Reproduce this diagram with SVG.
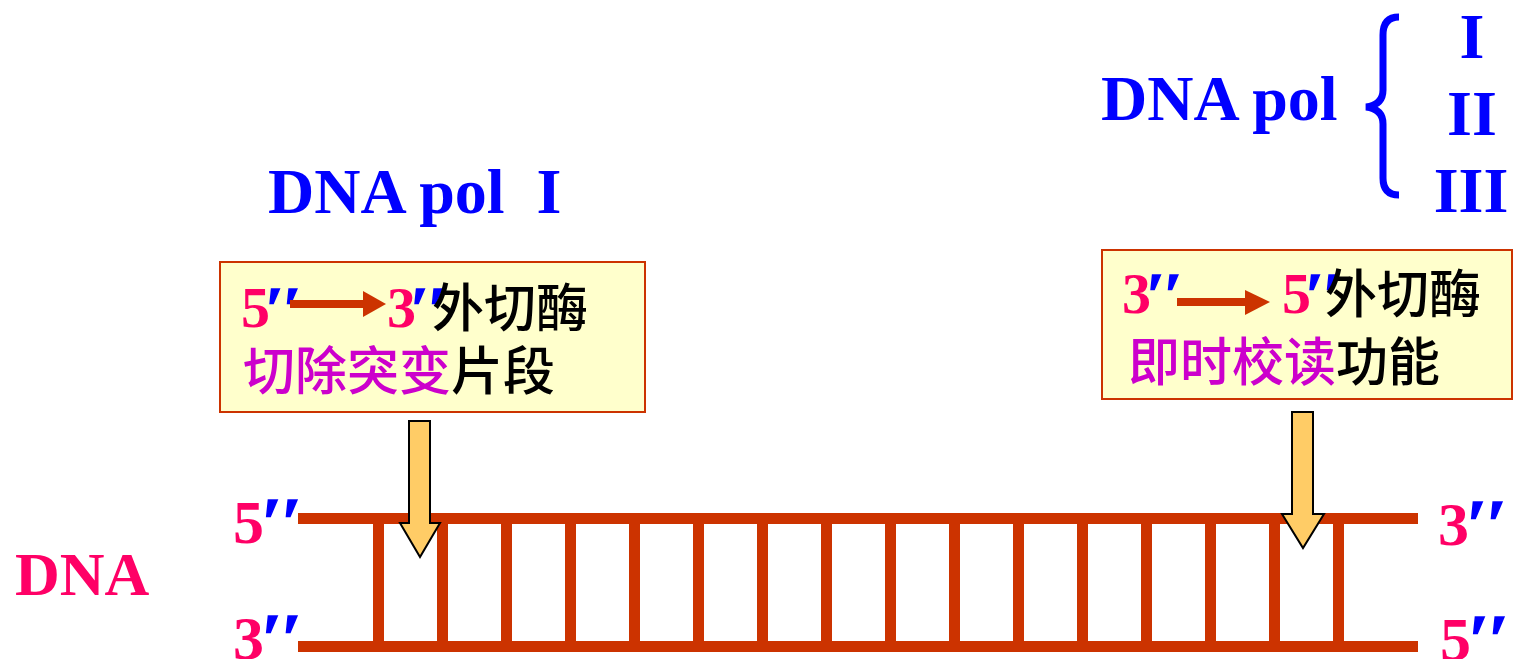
<svg xmlns="http://www.w3.org/2000/svg" width="1515" height="659" viewBox="0 0 1515 659">
<defs>
<style>
.lat{font-family:"Liberation Serif","Times New Roman",serif;font-weight:bold}
.blue{fill:#0000FF}
.pink{fill:#FF0066}
.prime{fill:#0000FF;font-family:"Liberation Serif",serif;font-weight:bold;font-style:italic;stroke:#0000FF;stroke-width:1.5}
.cjk{font-family:"Noto Sans CJK SC","Noto Sans CJK TC",sans-serif;font-size:52px;font-weight:500}
.purple{fill:#CC00CC}
.black{fill:#000000}
.box{fill:#FFFFCC;stroke:#CC3300;stroke-width:2}
.rail{stroke:#CC3300;stroke-width:11;fill:none}
.yarrow{fill:#FFCC66;stroke:#000000;stroke-width:2;stroke-linejoin:miter}
.harrow{fill:#CC3300}
</style>
</defs>
<rect width="1515" height="659" fill="#FFFFFF"/>

<g id="title-left">
<text class="lat blue" x="268" y="213" font-size="64" xml:space="preserve">DNA pol  I</text>
</g>

<g id="title-right">
<text class="lat blue" x="1101" y="120" font-size="64">DNA pol</text>
<path d="M1399,17 Q1383,17 1383,35 L1383,90 Q1383,105 1366,107 Q1383,109 1383,124 L1383,178 Q1383,195 1399,195" fill="none" stroke="#0000FF" stroke-width="7"/>
<text class="lat blue" x="1472" y="58" font-size="64" text-anchor="middle">I</text>
<text class="lat blue" x="1472" y="135" font-size="64" text-anchor="middle">II</text>
<text class="lat blue" x="1471" y="212" font-size="64" text-anchor="middle">III</text>
</g>

<g id="box-left">
<rect class="box" x="220" y="262" width="425" height="150"/>
<text class="lat pink" x="241" y="327" font-size="58">5</text>
<text class="prime" x="265" y="329" font-size="62">′′</text>
<line x1="290" y1="304" x2="364" y2="304" stroke="#CC3300" stroke-width="8"/>
<polygon class="harrow" points="363,291 386,304 363,317"/>
<text class="lat pink" x="387" y="327" font-size="58">3</text>
<text class="prime" x="410" y="329" font-size="62">′′</text>
<text class="cjk black" x="432" y="327">外切酶</text>
<text class="cjk" x="243" y="390"><tspan class="purple">切除突变</tspan><tspan class="black">片段</tspan></text>
</g>

<g id="box-right">
<rect class="box" x="1102" y="250" width="410" height="149"/>
<text class="lat pink" x="1122" y="313" font-size="58">3</text>
<text class="prime" x="1146" y="315" font-size="62">′′</text>
<line x1="1177" y1="302" x2="1246" y2="302" stroke="#CC3300" stroke-width="8"/>
<polygon class="harrow" points="1245,290 1270,302 1245,315"/>
<text class="lat pink" x="1282" y="313" font-size="58">5</text>
<text class="prime" x="1305" y="315" font-size="62">′′</text>
<text class="cjk black" x="1325" y="313">外切酶</text>
<text class="cjk" x="1128" y="381"><tspan class="purple">即时校读</tspan><tspan class="black">功能</tspan></text>
</g>

<g id="dna-label">
<text class="lat pink" x="15" y="595" font-size="62">DNA</text>
</g>

<g id="strand-labels">
<text class="lat pink" x="233" y="543" font-size="62">5</text>
<text class="prime" x="261" y="546" font-size="70">′′</text>
<text class="lat pink" x="233" y="659" font-size="62">3</text>
<text class="prime" x="261" y="662" font-size="70">′′</text>
<text class="lat pink" x="1438" y="545" font-size="62">3</text>
<text class="prime" x="1466" y="548" font-size="70">′′</text>
<text class="lat pink" x="1440" y="660" font-size="62">5</text>
<text class="prime" x="1468" y="663" font-size="70">′′</text>
</g>

<g id="dna-ladder">
<line class="rail" x1="298" y1="518.5" x2="1418" y2="518.5"/>
<line class="rail" x1="298" y1="646.5" x2="1418" y2="646.5"/>
<line class="rail" x1="378.5" y1="518" x2="378.5" y2="647"/>
<line class="rail" x1="442.5" y1="518" x2="442.5" y2="647"/>
<line class="rail" x1="506.5" y1="518" x2="506.5" y2="647"/>
<line class="rail" x1="570.5" y1="518" x2="570.5" y2="647"/>
<line class="rail" x1="634.5" y1="518" x2="634.5" y2="647"/>
<line class="rail" x1="698.5" y1="518" x2="698.5" y2="647"/>
<line class="rail" x1="762.5" y1="518" x2="762.5" y2="647"/>
<line class="rail" x1="826.5" y1="518" x2="826.5" y2="647"/>
<line class="rail" x1="890.5" y1="518" x2="890.5" y2="647"/>
<line class="rail" x1="954.5" y1="518" x2="954.5" y2="647"/>
<line class="rail" x1="1018.5" y1="518" x2="1018.5" y2="647"/>
<line class="rail" x1="1082.5" y1="518" x2="1082.5" y2="647"/>
<line class="rail" x1="1146.5" y1="518" x2="1146.5" y2="647"/>
<line class="rail" x1="1210.5" y1="518" x2="1210.5" y2="647"/>
<line class="rail" x1="1274.5" y1="518" x2="1274.5" y2="647"/>
<line class="rail" x1="1338.5" y1="518" x2="1338.5" y2="647"/>
</g>

<g id="connectors">
<polygon class="yarrow" points="409,421 430,421 430,523 440,523 420,557 400,523 409,523"/>
<polygon class="yarrow" points="1292,412 1313,412 1313,514 1324,514 1303,548 1282,514 1292,514"/>
</g>
</svg>
